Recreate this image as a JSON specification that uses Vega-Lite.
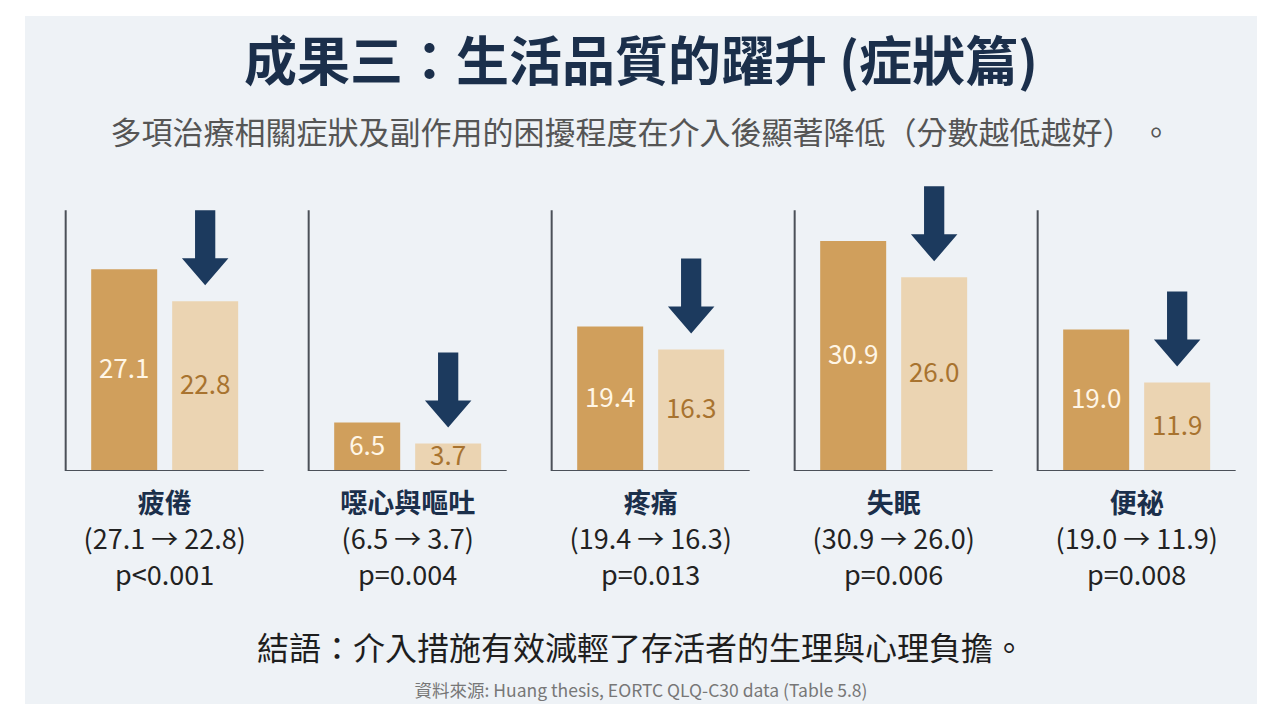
{
  "$schema": "https://vega.github.io/schema/vega-lite/v6.json",
  "background": "#ffffff",
  "padding": {"left": 25, "top": 16, "right": 23, "bottom": 16},
  "spacing": 0,
  "bounds": "flush",
  "config": {
    "view": {"stroke": null, "fill": "#eef2f6"},
    "font": "Noto Sans CJK TC",
    "text": {"font": "Noto Sans CJK TC"}
  },
  "datasets": {
    "scores": [
      {"symptom": "疲倦", "period": "before", "value": 27.1},
      {"symptom": "疲倦", "period": "after", "value": 22.8},
      {"symptom": "噁心與嘔吐", "period": "before", "value": 6.5},
      {"symptom": "噁心與嘔吐", "period": "after", "value": 3.7},
      {"symptom": "疼痛", "period": "before", "value": 19.4},
      {"symptom": "疼痛", "period": "after", "value": 16.3},
      {"symptom": "失眠", "period": "before", "value": 30.9},
      {"symptom": "失眠", "period": "after", "value": 26.0},
      {"symptom": "便祕", "period": "before", "value": 19.0},
      {"symptom": "便祕", "period": "after", "value": 11.9}
    ],
    "tests": [
      {"symptom": "疲倦", "p": "p<0.001"},
      {"symptom": "噁心與嘔吐", "p": "p=0.004"},
      {"symptom": "疼痛", "p": "p=0.013"},
      {"symptom": "失眠", "p": "p=0.006"},
      {"symptom": "便祕", "p": "p=0.008"}
    ]
  },
  "vconcat": [
    {
      "width": 1232,
      "height": 172,
      "data": {"values": [
        {"line": "title", "text": "成果三：生活品質的躍升 (症狀篇)"},
        {"line": "subtitle", "text": "多項治療相關症狀及副作用的困擾程度在介入後顯著降低（分數越低越好） 。"}
      ]},
      "layer": [
        {
          "transform": [{"filter": "datum.line === 'title'"}],
          "mark": {"type": "text", "fontSize": 53, "fontWeight": "bold", "color": "#1b2f4b", "baseline": "middle"},
          "encoding": {
            "y": {"field": "line", "type": "nominal", "axis": null,
                  "scale": {"type": "point", "domain": ["title", "subtitle"], "padding": 0.729, "align": 0.48}},
            "text": {"field": "text"}
          }
        },
        {
          "transform": [{"filter": "datum.line === 'subtitle'"}],
          "mark": {"type": "text", "fontSize": 31, "color": "#555555", "baseline": "middle"},
          "encoding": {
            "y": {"field": "line", "type": "nominal", "axis": null},
            "text": {"field": "text"}
          }
        }
      ]
    },
    {
      "width": 1232,
      "height": 283,
      "data": {"name": "scores"},
      "layer": [
        {
          "mark": {"type": "bar"},
          "encoding": {
            "x": {"field": "symptom", "type": "nominal", "axis": null,
                  "scale": {"type": "band", "domain": ["疲倦", "噁心與嘔吐", "疼痛", "失眠", "便祕"], "paddingInner": 0.18519, "paddingOuter": 0.1276, "align": 0.656}},
            "xOffset": {"field": "period", "type": "nominal",
                        "scale": {"domain": ["before", "after"], "paddingInner": 0.185, "paddingOuter": 0.315}},
            "y": {"field": "value", "type": "quantitative", "axis": null,
                  "scale": {"domain": [0, 38], "nice": false, "zero": true}},
            "color": {"field": "period", "type": "nominal", "legend": null,
                      "scale": {"domain": ["before", "after"], "range": ["#d09f5c", "#ebd4b2"]}}
          }
        },
        {
          "transform": [{"calculate": "datum.value / 2", "as": "mid"}],
          "mark": {"type": "text", "fontSize": 26, "baseline": "middle"},
          "encoding": {
            "x": {"field": "symptom", "type": "nominal"},
            "xOffset": {"field": "period", "type": "nominal"},
            "y": {"field": "mid", "type": "quantitative"},
            "text": {"field": "value", "type": "quantitative", "format": ".1f"},
            "color": {"condition": {"test": "datum.period === 'before'", "value": "#fff6e6"}, "value": "#a8732f"}
          }
        },
        {
          "transform": [{"filter": "datum.period === 'after'"}],
          "mark": {
            "type": "point",
            "shape": "M-0.27,-1L0.27,-1L0.27,0.28L0.62,0.28L0,1L-0.62,0.28L-0.27,0.28Z",
            "size": 5625,
            "filled": true,
            "opacity": 1,
            "strokeWidth": 0,
            "color": "#1c3a5e",
            "yOffset": -53.5
          },
          "encoding": {
            "x": {"field": "symptom", "type": "nominal"},
            "xOffset": {"field": "period", "type": "nominal"},
            "y": {"field": "value", "type": "quantitative"}
          }
        },
        {
          "data": {"name": "tests"},
          "mark": {"type": "rule", "color": "#4b5058", "strokeWidth": 2},
          "encoding": {
            "x": {"field": "symptom", "type": "nominal", "bandPosition": 0},
            "y": {"datum": 0, "type": "quantitative"},
            "y2": {"datum": 35}
          }
        },
        {
          "data": {"name": "tests"},
          "mark": {"type": "rule", "color": "#4b5058", "strokeWidth": 2},
          "encoding": {
            "x": {"field": "symptom", "type": "nominal", "bandPosition": 0},
            "x2": {"field": "symptom", "bandPosition": 1},
            "y": {"datum": 0, "type": "quantitative"}
          }
        }
      ]
    },
    {
      "width": 1232,
      "height": 144,
      "data": {"name": "scores"},
      "transform": [
        {"pivot": "period", "value": "value", "groupby": ["symptom"]},
        {"lookup": "symptom", "from": {"data": {"name": "tests"}, "key": "symptom", "fields": ["p"]}},
        {"calculate": "'(' + format(datum.before, '.1f') + ' → ' + format(datum.after, '.1f') + ')'", "as": "change"}
      ],
      "layer": [
        {
          "mark": {"type": "text", "fontSize": 27, "fontWeight": "bold", "color": "#1b2f4b", "baseline": "middle"},
          "encoding": {
            "x": {"field": "symptom", "type": "nominal", "axis": null,
                  "scale": {"type": "band", "domain": ["疲倦", "噁心與嘔吐", "疼痛", "失眠", "便祕"], "paddingInner": 0.18519, "paddingOuter": 0.1276, "align": 0.656}},
            "y": {"datum": "name", "type": "nominal", "axis": null,
                  "scale": {"type": "point", "domain": ["name", "change", "p"], "padding": 1, "align": 0.47}},
            "text": {"field": "symptom"}
          }
        },
        {
          "mark": {"type": "text", "fontSize": 27, "color": "#222222", "baseline": "middle"},
          "encoding": {
            "x": {"field": "symptom", "type": "nominal"},
            "y": {"datum": "change", "type": "nominal"},
            "text": {"field": "change"}
          }
        },
        {
          "mark": {"type": "text", "fontSize": 27, "color": "#222222", "baseline": "middle"},
          "encoding": {
            "x": {"field": "symptom", "type": "nominal"},
            "y": {"datum": "p", "type": "nominal"},
            "text": {"field": "p"}
          }
        }
      ]
    },
    {
      "width": 1232,
      "height": 89,
      "data": {"values": [
        {"line": "conclusion", "text": "結語：介入措施有效減輕了存活者的生理與心理負擔。"},
        {"line": "source", "text": "資料來源: Huang thesis, EORTC QLQ-C30 data (Table 5.8)"}
      ]},
      "layer": [
        {
          "transform": [{"filter": "datum.line === 'conclusion'"}],
          "mark": {"type": "text", "fontSize": 32, "color": "#1e1e1e", "baseline": "middle"},
          "encoding": {
            "y": {"field": "line", "type": "nominal", "axis": null,
                  "scale": {"type": "point", "domain": ["conclusion", "source"], "padding": 0.56, "align": 0.745}},
            "text": {"field": "text"}
          }
        },
        {
          "transform": [{"filter": "datum.line === 'source'"}],
          "mark": {"type": "text", "fontSize": 17.5, "color": "#777777", "baseline": "middle"},
          "encoding": {
            "y": {"field": "line", "type": "nominal", "axis": null},
            "text": {"field": "text"}
          }
        }
      ]
    }
  ]
}
